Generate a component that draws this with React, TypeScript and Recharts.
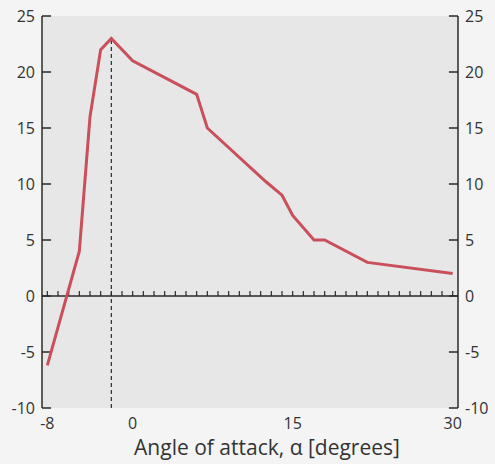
import React from "react";
import {
  CartesianGrid,
  ComposedChart,
  Line,
  ReferenceLine,
  XAxis,
  YAxis,
} from "recharts";

// lift coefficient curve
const ALPHA = [-8, -5, -4, -3, -2, 0, 6, 7, 12.5, 14, 15, 17, 18, 22, 30];
const CL = [-6.2, 4, 16, 22, 23, 21, 18, 15, 10.2, 9, 7.2, 5, 5, 3, 2];

const X_DOMAIN = [-8.5, 30.5];
const Y_DOMAIN = [-10, 25];
const X_TICKS = [-8, 0, 15, 30];
const Y_TICKS = [-10, -5, 0, 5, 10, 15, 20, 25];
const MINOR_TICKS = Array.from({ length: 39 }, (_, i) => i - 8);

const STALL_ALPHA = -2;
const STALL_CL = 23;

const data = ALPHA.map((a, i) => ({ alpha: a, cl: CL[i] }));

const INK = "#2a2a2a";
const TEXT = "#333";
const TICK_DX = 0.85; // inward y tick length, in degrees

export default function App() {
  return (
    <div
      style={{
        position: "absolute",
        left: 0,
        top: 0,
        width: 495,
        height: 464,
        background: "#f4f4f4",
        fontFamily: "'Open Sans', sans-serif",
      }}
    >
      <ComposedChart
        width={495}
        height={464}
        data={data}
        margin={{ top: 16, right: 0, bottom: 0, left: 0 }}
      >
        <CartesianGrid fill="#e7e7e7" stroke="none" horizontal={false} vertical={false} />
        <XAxis
          type="number"
          dataKey="alpha"
          domain={X_DOMAIN}
          ticks={X_TICKS}
          allowDataOverflow
          axisLine={false}
          tickLine={false}
          tickSize={0}
          tickMargin={10}
          height={56}
          tick={{ fill: TEXT, fontSize: 16 }}
          label={{
            value: "Angle of attack, α [degrees]",
            position: "insideBottom",
            offset: 9,
            dx: 17,
            fill: TEXT,
            fontSize: 21,
          }}
        />
        <YAxis
          yAxisId="l"
          type="number"
          domain={Y_DOMAIN}
          ticks={Y_TICKS}
          allowDataOverflow
          width={42}
          axisLine={{ stroke: INK, strokeWidth: 1.5 }}
          tickLine={false}
          tickSize={0}
          tickMargin={7}
          tick={{ fill: TEXT, fontSize: 16 }}
        />
        <YAxis
          yAxisId="r"
          type="number"
          orientation="right"
          domain={Y_DOMAIN}
          ticks={Y_TICKS}
          allowDataOverflow
          width={37}
          axisLine={{ stroke: INK, strokeWidth: 1.5 }}
          tickLine={false}
          tickSize={0}
          tickMargin={7}
          tick={{ fill: TEXT, fontSize: 16 }}
        />
        {Y_TICKS.map((v) => (
          <ReferenceLine
            key={"l" + v}
            yAxisId="l"
            segment={[
              { x: X_DOMAIN[0], y: v },
              { x: X_DOMAIN[0] + TICK_DX, y: v },
            ]}
            stroke={INK}
            strokeWidth={1.5}
          />
        ))}
        {Y_TICKS.map((v) => (
          <ReferenceLine
            key={"r" + v}
            yAxisId="r"
            segment={[
              { x: X_DOMAIN[1] - TICK_DX, y: v },
              { x: X_DOMAIN[1], y: v },
            ]}
            stroke={INK}
            strokeWidth={1.5}
          />
        ))}
        <ReferenceLine yAxisId="l" y={0} stroke={INK} strokeWidth={1.5} />
        {MINOR_TICKS.map((t) => (
          <ReferenceLine
            key={t}
            yAxisId="l"
            segment={[
              { x: t, y: 0 },
              { x: t, y: 0.45 },
            ]}
            stroke={INK}
            strokeWidth={1.2}
          />
        ))}
        <ReferenceLine
          yAxisId="l"
          segment={[
            { x: STALL_ALPHA, y: -10 },
            { x: STALL_ALPHA, y: STALL_CL },
          ]}
          stroke={INK}
          strokeWidth={1.2}
          strokeDasharray="4 3"
        />
        <Line
          yAxisId="l"
          type="linear"
          dataKey="cl"
          stroke="#c9505b"
          strokeWidth={3}
          dot={false}
          isAnimationActive={false}
        />
      </ComposedChart>
    </div>
  );
}
